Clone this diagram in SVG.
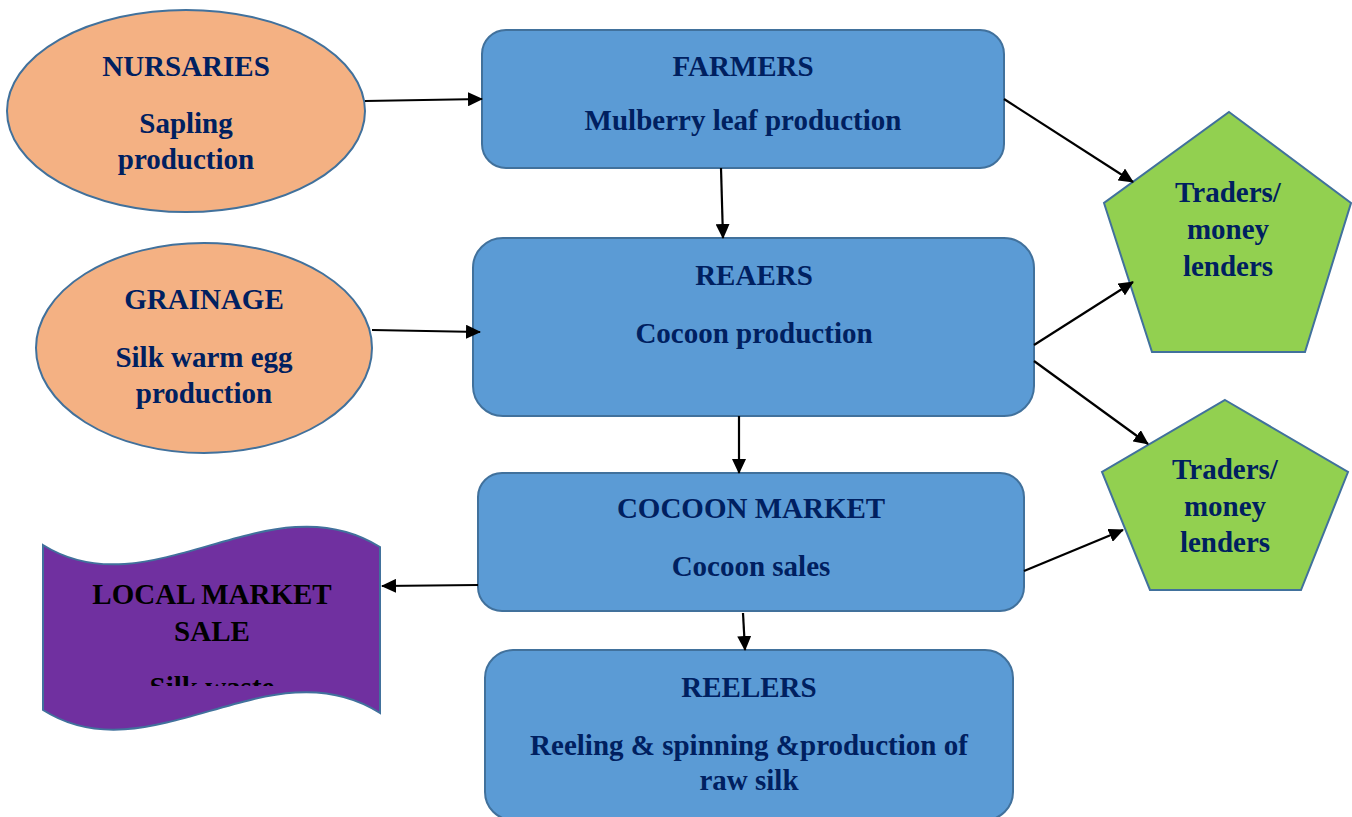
<svg xmlns="http://www.w3.org/2000/svg" width="1352" height="817" viewBox="0 0 1352 817">
<style>
text{font-family:"Liberation Serif","Times New Roman",serif;font-weight:bold;font-size:29px;text-anchor:middle;fill:#002060}
.ell{fill:#f4b183;stroke:#41719c;stroke-width:2}
.box{fill:#5b9bd5;stroke:#41719c;stroke-width:2}
.pent{fill:#92d050;stroke:#41719c;stroke-width:2}
.wave{fill:#7030a0;stroke:#41719c;stroke-width:2}
.dark{fill:#000000}
.conn line{stroke:#000;stroke-width:2.2;marker-end:url(#arr)}
</style>
<defs>
<marker id="arr" markerUnits="userSpaceOnUse" markerWidth="15" markerHeight="14" refX="14" refY="7" orient="auto">
<path d="M0,0 L15,7 L0,14 z" fill="#000"/>
</marker>
<clipPath id="waveclip"><rect x="40" y="520" width="345" height="166"/></clipPath>
</defs>
<rect width="1352" height="817" fill="#ffffff"/>

<g id="nursaries">
<ellipse class="ell" cx="186" cy="111" rx="179" ry="101"/>
<text x="186" y="76">NURSARIES</text>
<text x="186" y="133">Sapling</text>
<text x="186" y="169">production</text>
</g>

<g id="grainage">
<ellipse class="ell" cx="204" cy="348" rx="168" ry="105"/>
<text x="204" y="309">GRAINAGE</text>
<text x="204" y="367">Silk warm egg</text>
<text x="204" y="403">production</text>
</g>

<g id="farmers">
<rect class="box" x="482" y="30" width="522" height="138" rx="24"/>
<text x="743" y="76">FARMERS</text>
<text x="743" y="130">Mulberry leaf production</text>
</g>

<g id="reaers">
<rect class="box" x="473" y="238" width="561" height="178" rx="30"/>
<text x="754" y="285">REAERS</text>
<text x="754" y="343">Cocoon production</text>
</g>

<g id="cocoon-market">
<rect class="box" x="478" y="473" width="546" height="138" rx="24"/>
<text x="751" y="518">COCOON MARKET</text>
<text x="751" y="576">Cocoon sales</text>
</g>

<g id="reelers">
<rect class="box" x="485" y="650" width="528" height="170" rx="28"/>
<text x="749" y="697">REELERS</text>
<text x="749" y="755">Reeling &amp; spinning &amp;production of</text>
<text x="749" y="790">raw silk</text>
</g>

<g id="traders1">
<polygon class="pent" points="1229,112 1351,203 1305,352 1152,352 1104,203"/>
<text x="1228" y="202">Traders/</text>
<text x="1228" y="239">money</text>
<text x="1228" y="276">lenders</text>
</g>

<g id="traders2">
<polygon class="pent" points="1225,400 1348,472 1301,590 1150,590 1102,472"/>
<text x="1225" y="479">Traders/</text>
<text x="1225" y="516">money</text>
<text x="1225" y="552">lenders</text>
</g>

<g id="local-market">
<path class="wave" d="M43,545 C150,612 270,478 380,547 L380,713 C270,643 150,778 43,710 Z"/>
<text class="dark" x="212" y="604">LOCAL MARKET</text>
<text class="dark" x="212" y="641">SALE</text>
<g clip-path="url(#waveclip)"><text class="dark" x="212" y="697">Silk waste</text></g>
</g>

<g id="connectors" class="conn">
<line x1="365" y1="101" x2="482" y2="99"/>
<line x1="372" y1="330" x2="480" y2="332"/>
<line x1="721" y1="168" x2="723" y2="238"/>
<line x1="739" y1="416" x2="739" y2="473"/>
<line x1="743" y1="613" x2="745" y2="650"/>
<line x1="478" y1="585" x2="382" y2="586"/>
<line x1="1004" y1="99" x2="1133" y2="182"/>
<line x1="1034" y1="345" x2="1133" y2="282"/>
<line x1="1034" y1="361" x2="1148" y2="444"/>
<line x1="1024" y1="571" x2="1123" y2="530"/>
</g>
</svg>
